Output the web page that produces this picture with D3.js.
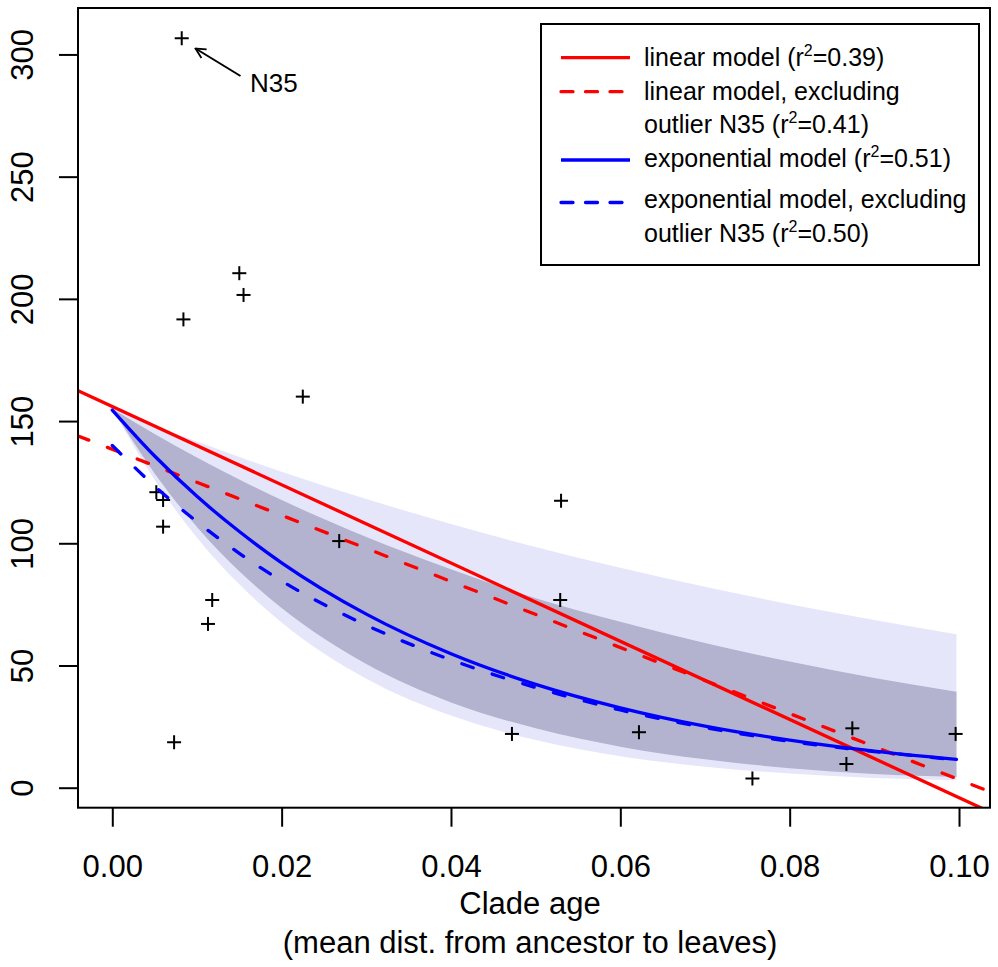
<!DOCTYPE html>
<html>
<head>
<meta charset="utf-8">
<script src="https://cdn.jsdelivr.net/npm/d3@7"></script>
<style>
  html, body { margin: 0; padding: 0; background: #fff; }
  svg { display: block; font-family: "Liberation Sans", Arial, Helvetica, sans-serif; }
</style>
</head>
<body>
<svg id="chart" width="998" height="967"></svg>
<script>
// ---------- data ----------
const ageX = [0.0082, 0.0150, 0.0155, 0.0084, 0.0225, 0.0052, 0.0060, 0.0060, 0.0118, 0.0113,
              0.0073, 0.0268, 0.0530, 0.0529, 0.0472, 0.0622, 0.0756, 0.0874, 0.0867, 0.0996];
const valueY = [306.6, 210.5, 201.6, 191.6, 160.0, 120.9, 117.7, 106.8, 76.8, 67.0,
                18.6, 100.9, 117.4, 76.8, 22.0, 22.7, 3.8, 24.3, 9.7, 22.0];

// fitted curves sampled along clade age
const fitX        = [0, 0.005, 0.01, 0.015, 0.02, 0.03, 0.04, 0.05, 0.06, 0.07, 0.08, 0.09, 0.0997];
const expFit      = [154.5, 135.7, 119.2, 104.8, 92.0, 71.0, 54.8, 42.3, 32.7, 25.2, 19.5, 15.0, 11.6];
const expFitExcl  = [140.0, 123.4, 108.8, 95.9, 84.6, 66.5, 52.3, 41.0, 31.8, 24.6, 19.0, 14.8, 11.4];
const outerUpper  = [155, 148.1, 141.6, 135.3, 129.3, 118.1, 107.9, 98.5, 90.0, 82.2, 75.1, 68.6, 62.8];
const innerUpper  = [155, 144.7, 135.1, 126.1, 117.7, 102.6, 89.4, 77.5, 67.9, 59.2, 51.6, 44.9, 39.3];
const innerLower  = [155, 128.6, 106.7, 88.6, 73.5, 50.6, 34.9, 24.3, 16.8, 11.6, 8.0, 5.6, 4.4];
const outerLower  = [155, 126.0, 102.3, 83.2, 67.6, 44.6, 29.5, 19.5, 12.9, 8.6, 5.8, 4.0, 3.1];

// linear models (straight lines across the plot)
const linX        = [-0.0041, 0.1037];
const linFit      = [162.5, -10.0];
const linFitExcl  = [144.0, -1.7];

const xTicks = [0, 0.02, 0.04, 0.06, 0.08, 0.10];
const yTicks = [0, 50, 100, 150, 200, 250, 300];

const legendItems = [
  { color: "#ff0000", dashed: false, lines: [["linear model (r", "=0.39)"]] },
  { color: "#ff0000", dashed: true,  lines: [["linear model, excluding"], ["outlier N35 (r", "=0.41)"]] },
  { color: "#0000ff", dashed: false, lines: [["exponential model (r", "=0.51)"]] },
  { color: "#0000ff", dashed: true,  lines: [["exponential model, excluding"], ["outlier N35 (r", "=0.50)"]] }
];

// ---------- layout ----------
const svg = d3.select("#chart");
const L = 78, R = 990, T = 8, B = 807.7;

const x = d3.scaleLinear().domain([-0.00405, 0.10366]).range([L, R]);
const y = d3.scaleLinear().domain([-8.18, 319.0]).range([B, T]);

svg.append("defs").append("clipPath").attr("id", "plotclip")
  .append("rect").attr("x", L).attr("y", T).attr("width", R - L).attr("height", B - T);

const plot = svg.append("g").attr("clip-path", "url(#plotclip)");

const idx = d3.range(fitX.length);
const area = (lo, hi) => d3.area().curve(d3.curveMonotoneX)
  .x(i => x(fitX[i])).y0(i => y(lo[i])).y1(i => y(hi[i]));

plot.append("path").datum(idx).attr("d", area(outerLower, outerUpper)).attr("fill", "#e6e6fa");
plot.append("path").datum(idx).attr("d", area(innerLower, innerUpper)).attr("fill", "#b3b3cf");

// points (pch = 3)
const pts = plot.append("g").attr("stroke", "#000").attr("stroke-width", 2);
ageX.forEach((a, i) => {
  const cx = x(a), cy = y(valueY[i]), h = 7;
  pts.append("line").attr("x1", cx - h).attr("x2", cx + h).attr("y1", cy).attr("y2", cy);
  pts.append("line").attr("x1", cx).attr("x2", cx).attr("y1", cy - h).attr("y2", cy + h);
});

const lineGen = (xs, ys) => d3.line().curve(d3.curveMonotoneX)
  .x(i => x(xs[i])).y(i => y(ys[i]))(d3.range(xs.length));

const DASH = "12,20";
plot.append("path").attr("d", lineGen(linX, linFit)).attr("fill", "none")
  .attr("stroke", "#ff0000").attr("stroke-width", 3.3);
plot.append("path").attr("d", lineGen(linX, linFitExcl)).attr("fill", "none")
  .attr("stroke", "#ff0000").attr("stroke-width", 3.3)
  .attr("stroke-dasharray", DASH).attr("stroke-linecap", "round");
plot.append("path").attr("d", lineGen(fitX, expFit)).attr("fill", "none")
  .attr("stroke", "#0000ff").attr("stroke-width", 3.3).attr("stroke-linecap", "round");
plot.append("path").attr("d", lineGen(fitX, expFitExcl)).attr("fill", "none")
  .attr("stroke", "#0000ff").attr("stroke-width", 3.3)
  .attr("stroke-dasharray", DASH).attr("stroke-linecap", "round");

// frame
svg.append("rect").attr("x", L).attr("y", T).attr("width", R - L).attr("height", B - T)
  .attr("fill", "none").attr("stroke", "#000").attr("stroke-width", 2);

// axes
const xAxis = svg.append("g").attr("transform", `translate(0,${B})`)
  .call(d3.axisBottom(x).tickValues(xTicks).tickFormat(d3.format(".2f")).tickSize(19).tickSizeOuter(0));
xAxis.select(".domain").remove();
xAxis.selectAll("line").attr("stroke-width", 2);
xAxis.selectAll("text").attr("y", 69).attr("dy", null)
  .attr("font-size", 31).attr("font-family", "Liberation Sans, Arial, sans-serif").attr("fill", "#000");

const yAxis = svg.append("g").attr("transform", `translate(${L},0)`)
  .call(d3.axisLeft(y).tickValues(yTicks).tickSize(19).tickSizeOuter(0));
yAxis.select(".domain").remove();
yAxis.selectAll("line").attr("stroke-width", 2);
yAxis.selectAll("text").attr("x", null).attr("dy", null)
  .attr("transform", "translate(-45,0) rotate(-90)").attr("text-anchor", "middle")
  .attr("font-size", 31).attr("font-family", "Liberation Sans, Arial, sans-serif").attr("fill", "#000");

// axis title
svg.append("text").attr("x", (L + R) / 2 - 4).attr("y", 914).attr("text-anchor", "middle")
  .attr("font-size", 31).text("Clade age");
svg.append("text").attr("x", (L + R) / 2 - 4).attr("y", 953).attr("text-anchor", "middle")
  .attr("font-size", 31).text("(mean dist. from ancestor to leaves)");

// N35 annotation
svg.append("defs").append("marker").attr("id", "arrowhead")
  .attr("viewBox", "0 0 12 12").attr("refX", 11).attr("refY", 6)
  .attr("markerWidth", 12).attr("markerHeight", 12).attr("markerUnits", "userSpaceOnUse")
  .attr("orient", "auto")
  .append("path").attr("d", "M1,1 L11,6 L1,11").attr("fill", "none")
  .attr("stroke", "#000").attr("stroke-width", 1.8);
svg.append("line").attr("x1", 240.5).attr("y1", 76).attr("x2", 195.5).attr("y2", 48.5)
  .attr("stroke", "#000").attr("stroke-width", 2).attr("marker-end", "url(#arrowhead)");
svg.append("text").attr("x", 250).attr("y", 92).attr("font-size", 26).text("N35");

// legend
const lg = svg.append("g");
lg.append("rect").attr("x", 541).attr("y", 24).attr("width", 438).attr("height", 241)
  .attr("fill", "#fff").attr("stroke", "#000").attr("stroke-width", 2);
const sampleY = [57.7, 91.7, 160, 202.5];
const baselines = [[66], [100, 133], [167], [208, 242]];
legendItems.forEach((item, k) => {
  lg.append("line").attr("x1", 561).attr("x2", 630).attr("y1", sampleY[k]).attr("y2", sampleY[k])
    .attr("stroke", item.color).attr("stroke-width", 3.3)
    .attr("stroke-dasharray", item.dashed ? "12,12.5" : null)
    .attr("stroke-linecap", item.dashed ? "round" : "butt");
  item.lines.forEach((parts, j) => {
    const t = lg.append("text").attr("x", 644).attr("y", baselines[k][j]).attr("font-size", 25);
    t.append("tspan").text(parts[0]);
    if (parts.length > 1) {
      t.append("tspan").attr("font-size", 16).attr("dy", -10).text("2");
      t.append("tspan").attr("dy", 10).text(parts[1]);
    }
  });
});
</script>
</body>
</html>
